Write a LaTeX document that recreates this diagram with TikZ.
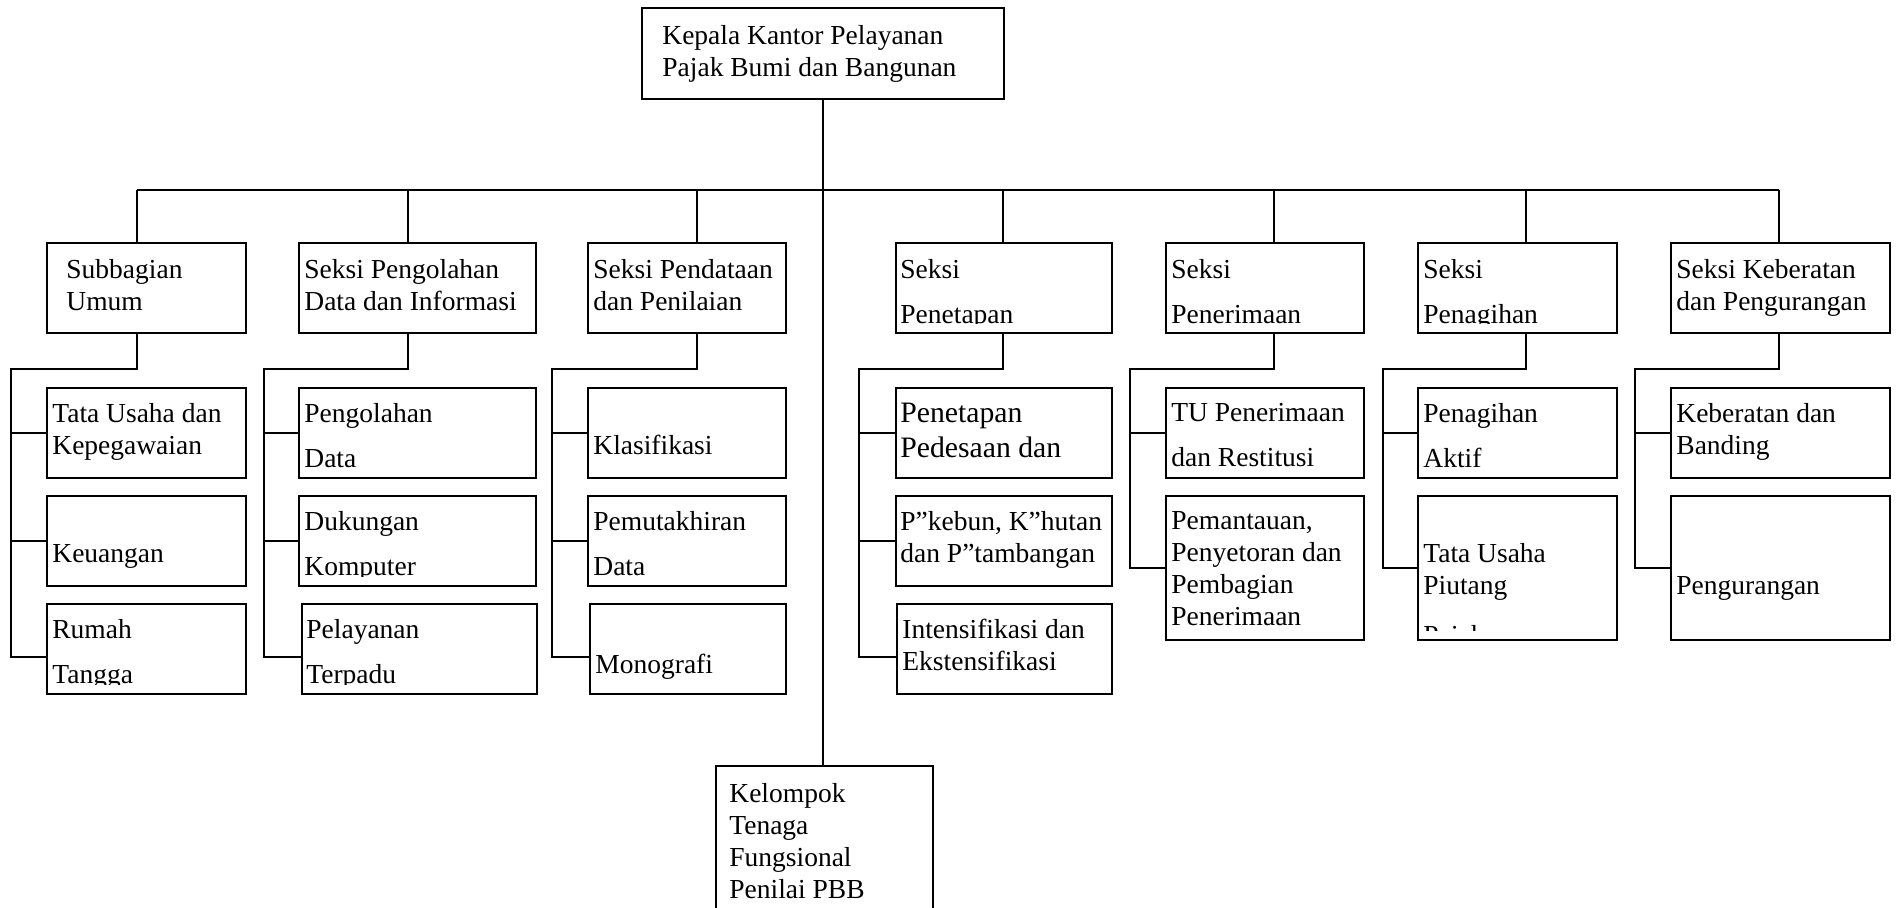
\documentclass[tikz,border=0pt]{standalone}
\usepackage{fontspec}
\setmainfont{Liberation Serif}
\usetikzlibrary{positioning, calc, fit}

\tikzset{
	unitbox/.style={draw, line width=1pt, inner sep=0pt},
	unittext/.style={anchor=north west, align=left, inner sep=0pt, font=\fontsize{13.75}{16}\selectfont},
	widetext/.style={unittext, font=\fontsize{13.75}{22.5}\selectfont},
	link/.style={line width=1pt}
}

\begin{document}
\begin{tikzpicture}[x=0.5pt, y=-0.5pt]
\useasboundingbox (0,0) rectangle (1897,908);

% top and sections
\node[unitbox, fit={(642,8) (1004,99)}] (kepala) {};
\node[unittext] (kepala-t) at (662,25) {Kepala Kantor Pelayanan\\Pajak Bumi dan Bangunan};

\node[unitbox, fit={(47,243) (246,333)}] (s1) {};
\node[unitbox, fit={(299,243) (536,333)}] (s2) {};
\node[unitbox, fit={(588,243) (786,333)}] (s3) {};
\node[unitbox, fit={(896,243) (1112,333)}] (s4) {};
\node[unitbox, fit={(1166,243) (1364,333)}] (s5) {};
\node[unitbox, fit={(1418,243) (1617,333)}] (s6) {};
\node[unitbox, fit={(1671,243) (1890,333)}] (s7) {};
\node[unittext] (s1-t) at (66,259) {Subbagian\\Umum};
\node[unittext] (s2-t) at (304,259) {Seksi Pengolahan\\Data dan Informasi};
\node[unittext] (s3-t) at (593,259) {Seksi Pendataan\\dan Penilaian};
\begin{scope}
\clip (s4.north west) rectangle ([yshift=5pt]s4.south east);
\node[widetext] (s4-t) at (900,259) {Seksi\\Penetapan};
\end{scope}
\begin{scope}
\clip (s5.north west) rectangle ([yshift=5pt]s5.south east);
\node[widetext] (s5-t) at (1171,259) {Seksi\\Penerimaan};
\end{scope}
\begin{scope}
\clip (s6.north west) rectangle ([yshift=5pt]s6.south east);
\node[widetext] (s6-t) at (1423,259) {Seksi\\Penagihan};
\end{scope}
\node[unittext] (s7-t) at (1676,259) {Seksi Keberatan\\dan Pengurangan};

% sub units
\node[unitbox, fit={(47,388) (246,478)}] (s1a) {};
\node[unitbox, fit={(47,496) (246,586)}] (s1b) {};
\node[unitbox, fit={(47,604) (246,694)}] (s1c) {};
\node[unittext] (s1a-t) at (52,403) {Tata Usaha dan\\Kepegawaian};
\node[unittext] (s1b-t) at (52,544) {Keuangan};
\begin{scope}
\clip (s1c.north west) rectangle ([yshift=5pt]s1c.south east);
\node[widetext] (s1c-t) at (52,619) {Rumah\\Tangga};
\end{scope}

\node[unitbox, fit={(299,388) (536,478)}] (s2a) {};
\node[unitbox, fit={(299,496) (536,586)}] (s2b) {};
\node[unitbox, fit={(302,604) (537,694)}] (s2c) {};
\begin{scope}
\clip (s2a.north west) rectangle ([yshift=5pt]s2a.south east);
\node[widetext] (s2a-t) at (304,403) {Pengolahan\\Data};
\end{scope}
\begin{scope}
\clip (s2b.north west) rectangle ([yshift=5pt]s2b.south east);
\node[widetext] (s2b-t) at (304,511) {Dukungan\\Komputer};
\end{scope}
\begin{scope}
\clip (s2c.north west) rectangle ([yshift=5pt]s2c.south east);
\node[widetext] (s2c-t) at (306,619) {Pelayanan\\Terpadu};
\end{scope}

\node[unitbox, fit={(588,388) (786,478)}] (s3a) {};
\node[unitbox, fit={(588,496) (786,586)}] (s3b) {};
\node[unitbox, fit={(590,604) (786,694)}] (s3c) {};
\node[unittext] (s3a-t) at (593,435) {Klasifikasi};
\begin{scope}
\clip (s3b.north west) rectangle ([yshift=5pt]s3b.south east);
\node[widetext] (s3b-t) at (593,511) {Pemutakhiran\\Data};
\end{scope}
\node[unittext] (s3c-t) at (595,654) {Monografi};

\node[unitbox, fit={(896,388) (1112,478)}] (s4a) {};
\node[unitbox, fit={(896,496) (1112,586)}] (s4b) {};
\node[unitbox, fit={(897,604) (1112,694)}] (s4c) {};
\node[unittext, font=\fontsize{14.85}{17.5}\selectfont] (s4a-t) at (900,403) {Penetapan\\Pedesaan dan};
\node[unittext] (s4b-t) at (900,511) {P”kebun, K”hutan\\dan P”tambangan};
\node[unittext] (s4c-t) at (902,619) {Intensifikasi dan\\Ekstensifikasi};

\node[unitbox, fit={(1166,388) (1364,478)}] (s5a) {};
\node[unitbox, fit={(1166,496) (1364,640)}] (s5b) {};
\begin{scope}
\clip (s5a.north west) rectangle ([yshift=5pt]s5a.south east);
\node[widetext] (s5a-t) at (1171,403) {TU Penerimaan\\dan Restitusi};
\end{scope}
\node[unittext] (s5b-t) at (1171,511) {Pemantauan,\\Penyetoran dan\\Pembagian\\Penerimaan};

\node[unitbox, fit={(1418,388) (1617,478)}] (s6a) {};
\node[unitbox, fit={(1418,496) (1617,640)}] (s6b) {};
\begin{scope}
\clip (s6a.north west) rectangle ([yshift=5pt]s6a.south east);
\node[widetext] (s6a-t) at (1423,403) {Penagihan\\Aktif};
\end{scope}
\begin{scope}
\clip (s6b.north west) rectangle ([yshift=5pt]s6b.south east);
\node[unittext] (s6b-t) at (1423,543) {Tata Usaha\\Piutang\\[9pt]Pajak};
\end{scope}

\node[unitbox, fit={(1671,388) (1890,478)}] (s7a) {};
\node[unitbox, fit={(1671,496) (1890,640)}] (s7b) {};
\node[unittext] (s7a-t) at (1676,403) {Keberatan dan\\Banding};
\node[unittext] (s7b-t) at (1676,576) {Pengurangan};

\node[unitbox, fit={(716,766) (933,912)}] (kelompok) {};
\node[unittext] (kelompok-t) at (729,783) {Kelompok\\Tenaga\\Fungsional\\Penilai PBB};

% connectors
\coordinate (d1) at (137,190);
\coordinate (d2) at (408,190);
\coordinate (d3) at (697,190);
\coordinate (d4) at (1003,190);
\coordinate (d5) at (1274,190);
\coordinate (d6) at (1526,190);
\coordinate (d7) at (1779,190);
\coordinate (j1) at (11,369);
\coordinate (j2) at (264,369);
\coordinate (j3) at (552,369);
\coordinate (j4) at (859,369);
\coordinate (j5) at (1130,369);
\coordinate (j6) at (1383,369);
\coordinate (j7) at (1635,369);

\draw[link] (kepala.south) -- (kepala.south |- kelompok.north);
\draw[link] (d1) -- (d7);
\draw[link] (d1) -- (d1 |- s1.north);
\draw[link] (d2) -- (d2 |- s2.north);
\draw[link] (d3) -- (d3 |- s3.north);
\draw[link] (d4) -- (d4 |- s4.north);
\draw[link] (d5) -- (d5 |- s5.north);
\draw[link] (d6) -- (d6 |- s6.north);
\draw[link] (d7) -- (d7 |- s7.north);

\draw[link] (d1 |- s1.south) |- (j1) |- ([yshift=-4pt]s1c.west);
\draw[link] (j1 |- s1a.west) -- (s1a.west);
\draw[link] (j1 |- s1b.west) -- (s1b.west);
\draw[link] (d2 |- s2.south) |- (j2) |- ([yshift=-4pt]s2c.west);
\draw[link] (j2 |- s2a.west) -- (s2a.west);
\draw[link] (j2 |- s2b.west) -- (s2b.west);
\draw[link] (d3 |- s3.south) |- (j3) |- ([yshift=-4pt]s3c.west);
\draw[link] (j3 |- s3a.west) -- (s3a.west);
\draw[link] (j3 |- s3b.west) -- (s3b.west);
\draw[link] (d4 |- s4.south) |- (j4) |- ([yshift=-4pt]s4c.west);
\draw[link] (j4 |- s4a.west) -- (s4a.west);
\draw[link] (j4 |- s4b.west) -- (s4b.west);
\draw[link] (d5 |- s5.south) |- (j5) |- (s5b.west);
\draw[link] (j5 |- s5a.west) -- (s5a.west);
\draw[link] (d6 |- s6.south) |- (j6) |- (s6b.west);
\draw[link] (j6 |- s6a.west) -- (s6a.west);
\draw[link] (d7 |- s7.south) |- (j7) |- (s7b.west);
\draw[link] (j7 |- s7a.west) -- (s7a.west);
\end{tikzpicture}
\end{document}
